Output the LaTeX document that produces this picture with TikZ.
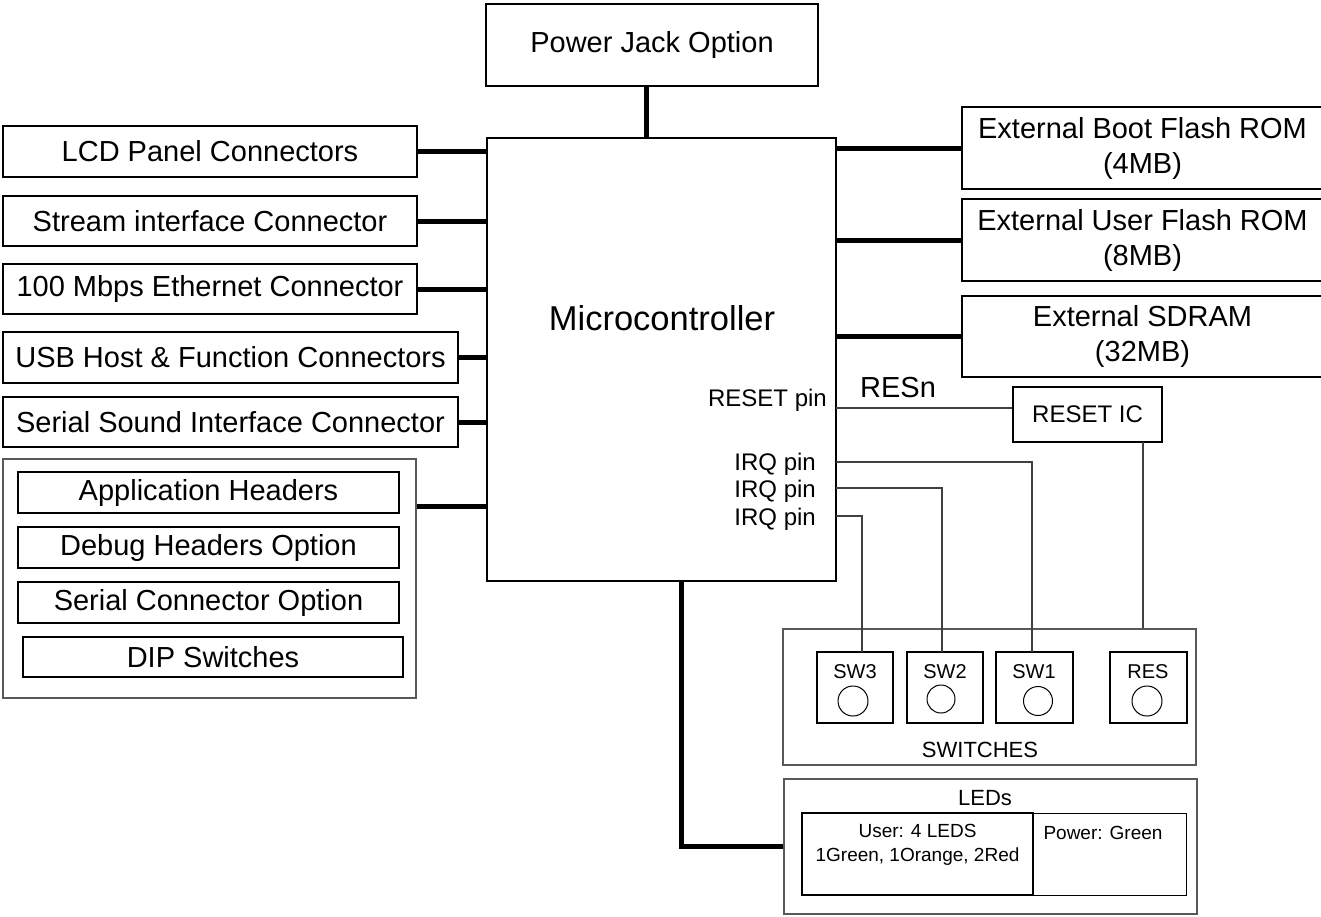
\documentclass[tikz,border=0pt]{standalone}
\usepackage{fontspec}
\setmainfont{Liberation Sans}
\usetikzlibrary{calc}
\begin{document}
\begin{tikzpicture}[x=1pt,y=-1pt,
  box/.style={draw=black, line width=1.2pt, inner sep=0pt, align=center, font=\fontsize{29}{35}\selectfont},
  grpbox/.style={draw=black!65, line width=1.1pt, inner sep=0pt},
  swbox/.style={draw=black, line width=2pt, inner sep=0pt},
  knob/.style={draw=black, circle, line width=1pt, inner sep=0pt, minimum size=30pt},
  bus/.style={line width=5pt},
  wire/.style={draw=black!75, line width=1.3pt},
  pinlbl/.style={inner sep=0pt, font=\fontsize{24}{28}\selectfont},
  swlbl/.style={inner sep=0pt, font=\fontsize{20}{24}\selectfont},
  ledlbl/.style={inner sep=0pt, align=center, font=\fontsize{19}{24}\selectfont}]
\useasboundingbox (0,0) rectangle (1321,916);

% top
\node[box, minimum width=332pt, minimum height=82pt] (pj) at (652,45) {Power Jack Option};
\node[draw=black, line width=1.5pt, minimum width=349pt, minimum height=443pt, inner sep=0pt] (mcu) at (661.5,359.5) {};
\node[inner sep=0pt, font=\fontsize{34.5}{40}\selectfont] (mcut) at (662,318) {Microcontroller};

% left
\node[box, minimum width=414pt, minimum height=51pt] (lcd) at (210,151.5) {LCD Panel Connectors};
\node[box, minimum width=414pt, minimum height=50pt] (stream) at (210,221) {Stream interface Connector};
\node[box, minimum width=414pt, minimum height=50pt] (eth) at (210,289) {100 Mbps Ethernet Connector};
\node[box, minimum width=455pt, minimum height=51pt] (usb) at (230.5,357.5) {USB Host \& Function Connectors};
\node[box, minimum width=455pt, minimum height=50pt] (ssi) at (230.5,422) {Serial Sound Interface Connector};
\node[grpbox, minimum width=413pt, minimum height=239pt] (grp) at (209.5,578.5) {};
\node[box, minimum width=381pt, minimum height=41pt] (app) at (208.5,492.5) {Application Headers};
\node[box, minimum width=381pt, minimum height=41pt] (dbg) at (208.5,547.5) {Debug Headers Option};
\node[box, minimum width=381pt, minimum height=41pt] (ser) at (208.5,602.5) {Serial Connector Option};
\node[box, minimum width=380pt, minimum height=40pt] (dip) at (213,657) {DIP Switches};

% right
\node[box, minimum width=361pt, minimum height=82pt] (boot) at (1142.5,148) {External Boot Flash ROM\\(4MB)};
\node[box, minimum width=361pt, minimum height=82pt] (user) at (1142.5,240) {External User Flash ROM\\(8MB)};
\node[box, minimum width=361pt, minimum height=81pt] (sdram) at (1142.5,336.5) {External SDRAM\\(32MB)};

% pins
\node[pinlbl, anchor=east] (rpin) at (827,400) {RESET pin};
\node[pinlbl, anchor=east] (irq1) at (816,464) {IRQ pin};
\node[pinlbl, anchor=east] (irq2) at (816,491) {IRQ pin};
\node[pinlbl, anchor=east] (irq3) at (816,519) {IRQ pin};
\node[inner sep=0pt, font=\fontsize{29}{34}\selectfont] (resn) at (898,388) {RESn};
\node[draw=black, line width=1.2pt, minimum width=149pt, minimum height=55pt, inner sep=0pt, font=\fontsize{24}{28}\selectfont] (resic) at (1087.5,414.5) {RESET IC};

% switches
\node[grpbox, minimum width=413pt, minimum height=136pt] (swb) at (989.5,697) {};
\node[swlbl] (swt) at (980,750) {\fontsize{22}{26}\selectfont SWITCHES};
\node[swbox, minimum width=76pt, minimum height=71pt] (sw3) at (855,687.5) {};
\node[swbox, minimum width=76pt, minimum height=71pt] (sw2) at (945,687.5) {};
\node[swbox, minimum width=77pt, minimum height=71pt] (sw1) at (1034.5,687.5) {};
\node[swbox, minimum width=77pt, minimum height=71pt] (res) at (1148.5,687.5) {};
\node[swlbl] (sw3t) at (855,672) {SW3};
\node[swlbl] (sw2t) at (945,672) {SW2};
\node[swlbl] (sw1t) at (1034,672) {SW1};
\node[swlbl] (rest) at (1148,672) {RES};
\node[knob] (k3) at (853,701) {};
\node[knob, minimum size=28pt] (k2) at (941,699) {};
\node[knob, minimum size=29pt] (k1) at (1038,701) {};
\node[knob] (kr) at (1147,701) {};

% LEDs
\node[grpbox, minimum width=413pt, minimum height=135pt] (leds) at (990.5,846.5) {};
\node[ledlbl, font=\fontsize{22}{26}\selectfont] (ledt) at (985,798) {LEDs};
\node[draw=black, line width=1.5pt, minimum width=231pt, minimum height=82pt, inner sep=0pt] (ub) at (917.5,854) {};
\node[draw=black, line width=1pt, minimum width=153pt, minimum height=82pt, inner sep=0pt] (pb) at (1109.5,854) {};
\node[ledlbl] (ubt) at (917.5,845) {User: 4 LEDS\\1Green, 1Orange, 2Red};
\node[ledlbl] (pbt) at (1103,833) {Power: Green};

% buses
\draw[bus] ([xshift=-6pt]pj.south) -- ([xshift=-6pt]pj.south |- mcu.north);
\foreach \n in {lcd,stream,eth,usb,ssi} \draw[bus] (\n.east) -- (\n.east -| mcu.west);
\coordinate (gc) at ($(grp.north east)+(0,48)$);
\draw[bus] (gc) -- (gc -| mcu.west);
\foreach \n in {boot,user,sdram} \draw[bus] (\n.west -| mcu.east) -- (\n.west);
\coordinate (mb) at (681,581);
\draw[bus] (mb) |- (leds.west);

% wires
\coordinate (rst) at (836,408);
\draw[wire] (rst) -- (rst -| resic.west);
\coordinate (r1) at (1143,442);
\draw[wire] (r1) -- (r1 |- swb.north);
\coordinate (i1) at (836,462);
\coordinate (i2) at (836,488);
\coordinate (i3) at (836,516);
\coordinate (s1) at (1032,652);
\coordinate (s2) at (942,652);
\coordinate (s3) at (862,652);
\draw[wire] (i1) -| (s1);
\draw[wire] (i2) -| (s2);
\draw[wire] (i3) -| (s3);
\end{tikzpicture}
\end{document}
